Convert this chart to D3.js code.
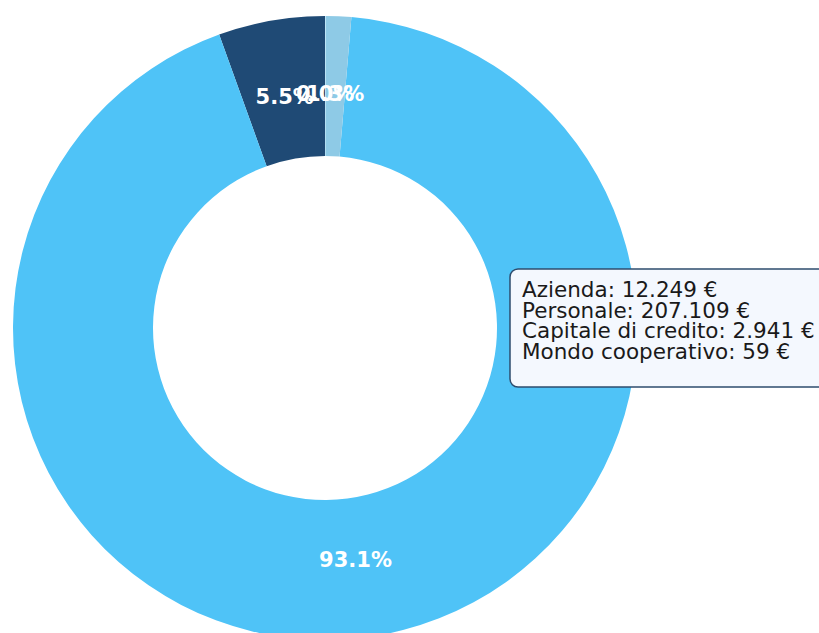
<!DOCTYPE html>
<html><head><meta charset="utf-8">
<script src="https://cdn.jsdelivr.net/npm/d3@7"></script>
<style>html,body{margin:0;padding:0;background:#fff;overflow:hidden}</style>
</head><body>
<svg id="c" width="819" height="633"></svg>
<script>
const categories = ["Azienda", "Personale", "Capitale di credito", "Mondo cooperativo"];
const values = [12249, 207109, 2941, 59];
const valueLabels = ["12.249", "207.109", "2.941", "59"];
const colors = ["#1f4a75", "#4fc3f7", "#8ecae6", "#b3e5fc"];

const svg = d3.select("#c");
const cx = 325, cy = 328, rOuter = 312, rInner = 172, rLabel = 234;
const total = d3.sum(values);

const pie = d3.pie().sort(null).value(d => d).startAngle(0).endAngle(-2 * Math.PI);
const arcs = pie(values);
const arc = d3.arc().innerRadius(rInner).outerRadius(rOuter);
const labelArc = d3.arc().innerRadius(rLabel).outerRadius(rLabel);

const g = svg.append("g").attr("transform", `translate(${cx},${cy})`);
g.selectAll("path").data(arcs).enter().append("path")
  .attr("d", arc).attr("fill", (d, i) => colors[i]);

g.selectAll("text.pct").data(arcs).enter().append("text")
  .attr("class", "pct")
  .attr("transform", d => `translate(${labelArc.centroid(d)})`)
  .attr("text-anchor", "middle").attr("dominant-baseline", "central")
  .attr("font-family", "DejaVu Sans").attr("font-weight", "bold").attr("font-size", 21)
  .attr("fill", "#ffffff")
  .text(d => (d.value / total * 100).toFixed(1) + "%");

// info box
const bx = 510, by = 269;
svg.append("rect").attr("x", bx).attr("y", by).attr("width", 330).attr("height", 118)
  .attr("rx", 8).attr("ry", 8)
  .attr("fill", "#f4f8fe").attr("stroke", "#2e4c6d").attr("stroke-width", 1.5);
const lines = categories.map((c, i) => `${c}: ${valueLabels[i]} €`);
svg.selectAll("text.info").data(lines).enter().append("text")
  .attr("class", "info")
  .attr("x", bx + 12).attr("y", (d, i) => by + 28 + i * 20.5)
  .attr("font-family", "DejaVu Sans").attr("font-size", 21.5).attr("fill", "#1a1a1a")
  .text(d => d);
</script>
</body></html>
